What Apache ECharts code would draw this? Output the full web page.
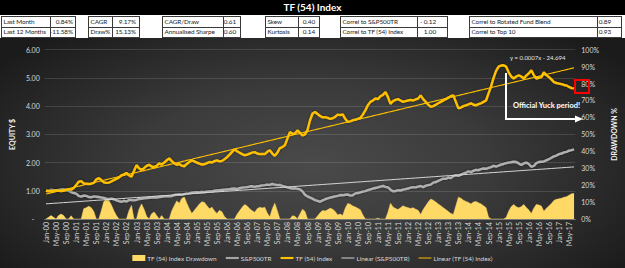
<!DOCTYPE html>
<html><head><meta charset="utf-8">
<script src="https://cdn.jsdelivr.net/npm/echarts@6/dist/echarts.min.js"></script>
<style>
html,body{margin:0;padding:0;width:625px;height:268px;overflow:hidden;background:#fff;font-family:Lato,'Liberation Sans',sans-serif;}
#band{position:absolute;left:0;top:0;width:625px;height:15px;background:#000;color:#fff;font-weight:bold;font-size:10px;line-height:15px;text-align:center;}
#bg{position:absolute;left:0;top:38px;width:625px;height:230px;
 background:radial-gradient(ellipse 62% 75% at 50% 55%, #4a4a4a 0%, #3b3b3b 45%, #282828 78%, #1b1b1b 100%);}
#chart{position:absolute;left:0;top:0;width:625px;height:268px;}
.box{position:absolute;top:15.5px;height:22px;border:1px solid #3a3a3a;box-sizing:border-box;font-size:6.4px;letter-spacing:-0.1px;color:#222;}
.hr{position:absolute;left:0;right:0;top:10px;height:0;border-top:1px solid #3a3a3a;}
.vr{position:absolute;top:0;bottom:0;width:0;border-left:1px solid #3a3a3a;}
.lab{position:absolute;left:1.5px;height:10px;line-height:10px;white-space:nowrap;}
.val{position:absolute;height:10px;line-height:10px;white-space:nowrap;text-align:right;}
</style></head>
<body>
<div id="band">TF (54) Index</div>
<div id="bg"></div>
<div id="tables"></div>
<div id="chart"></div>
<script>
// ---------- stats tables ----------
const statLabels = [
  ["Last Month","Last 12 Months"],
  ["CAGR","Draw%"],
  ["CAGR/Draw","Annualised Sharpe"],
  ["Skew","Kurtosis"],
  ["Correl to S&P500TR","Correl to TF (54) Index"],
  ["Correl to Rotated Fund Blend"," Correl to Top 10"]
];
const statValues = [
  ["0.84%","-11.58%"],
  ["9.17%","15.13%"],
  ["0.61","0.60"],
  ["0.40","0.14"],
  ["- 0.12","1.00"],
  ["0.89","0.93"]
];

// ---------- chart data (monthly, Jan-00 .. Jul-17) ----------
const startYear = 2000;
const monthNames = ['Jan','Feb','Mar','Apr','May','Jun','Jul','Aug','Sep','Oct','Nov','Dec'];

const tfIndex = [
 1.00,0.99,0.98,0.99,1.02,1.00,0.99,1.00,1.03,1.05,1.04,1.10,
 1.20,1.32,1.34,1.26,1.25,1.24,1.25,1.28,1.40,1.45,1.38,1.30,
 1.28,1.29,1.33,1.38,1.42,1.47,1.55,1.58,1.63,1.55,1.50,1.70,
 1.91,1.80,1.74,1.80,1.88,1.92,1.86,1.84,1.88,1.97,1.93,2.00,
 2.08,2.15,2.05,1.98,1.92,1.95,1.89,1.87,1.95,2.02,2.08,2.04,
 2.00,1.96,1.93,1.94,1.98,2.02,2.00,2.05,2.08,2.04,2.06,2.12,
 2.19,2.28,2.38,2.47,2.40,2.35,2.30,2.26,2.28,2.32,2.35,2.37,
 2.32,2.30,2.31,2.30,2.38,2.44,2.32,2.24,2.35,2.51,2.55,2.61,
 2.85,3.08,3.02,3.03,3.14,3.05,2.96,3.00,3.15,3.50,3.74,3.79,
 3.72,3.65,3.60,3.61,3.58,3.55,3.57,3.62,3.70,3.68,3.71,3.55,
 3.44,3.46,3.50,3.52,3.55,3.58,3.70,3.85,4.03,4.15,4.20,4.27,
 4.25,4.35,4.40,4.50,4.32,4.08,4.18,4.22,4.25,4.20,4.15,4.18,
 4.20,4.22,4.20,4.24,4.27,4.38,4.25,4.15,4.05,3.97,4.00,4.05,
 4.10,4.15,4.20,4.25,4.30,4.35,4.38,4.15,3.92,3.95,4.00,4.03,
 4.06,4.10,4.05,4.03,4.07,4.10,4.15,4.20,4.45,4.70,5.00,5.25,
 5.40,5.44,5.45,5.40,5.20,5.05,4.98,5.05,5.09,5.05,4.98,5.08,
 5.16,5.27,5.10,4.98,5.00,5.03,5.20,5.10,5.03,4.95,4.85,4.82,
 4.80,4.78,4.75,4.73,4.68,4.64,4.63
];

const sp500tr = [
 1.00,0.98,1.04,1.02,1.00,1.03,1.05,1.06,1.02,1.00,0.95,0.92,
 0.90,0.82,0.79,0.83,0.82,0.78,0.77,0.80,0.79,0.78,0.76,0.75,
 0.72,0.70,0.72,0.70,0.66,0.63,0.61,0.64,0.62,0.67,0.67,0.66,
 0.68,0.71,0.72,0.73,0.74,0.75,0.76,0.77,0.76,0.78,0.79,0.80,
 0.81,0.80,0.81,0.85,0.86,0.87,0.86,0.88,0.90,0.91,0.93,0.94,
 0.95,0.94,0.96,0.95,0.97,0.98,0.98,1.00,1.01,1.02,1.03,1.04,
 1.05,1.06,1.07,1.08,1.06,1.09,1.11,1.12,1.13,1.15,1.16,1.14,
 1.16,1.17,1.19,1.20,1.22,1.21,1.24,1.22,1.20,1.21,1.17,1.15,
 1.12,1.10,1.08,1.09,1.07,1.05,0.98,0.86,0.80,0.76,0.72,0.67,
 0.64,0.61,0.66,0.70,0.73,0.76,0.78,0.80,0.82,0.85,0.84,0.86,
 0.87,0.83,0.84,0.91,0.92,0.94,0.97,0.99,1.02,1.05,1.08,1.10,
 1.12,1.15,1.17,1.14,1.12,1.04,0.98,0.99,1.02,1.01,1.04,1.06,
 1.08,1.11,1.13,1.12,1.15,1.17,1.13,1.18,1.20,1.22,1.29,1.31,
 1.35,1.39,1.43,1.42,1.47,1.45,1.52,1.55,1.53,1.57,1.61,1.64,
 1.69,1.66,1.71,1.74,1.73,1.77,1.79,1.78,1.81,1.84,1.88,1.86,
 1.89,1.93,1.95,1.98,2.00,2.01,2.03,2.02,1.97,1.91,1.97,2.00,
 1.95,1.85,1.88,1.98,2.02,2.03,2.04,2.08,2.12,2.17,2.22,2.25,
 2.30,2.32,2.36,2.38,2.42,2.44,2.47
];

const drawdownPct = [
 0,1.0,2.0,1.0,0,2.0,2.9,2.0,0,0,1.9,0,
 0,0,0,6.0,6.7,7.5,6.7,4.5,0,0,4.8,10.3,
 11.7,11.0,8.3,4.8,2.1,0,0,0,0,4.9,8.0,0,
 0,5.8,8.9,5.8,1.6,0,3.1,4.2,2.1,0,2.0,0,
 0,0,4.7,7.9,10.7,9.3,12.1,13.0,9.3,6.0,3.3,5.1,
 7.0,8.8,10.2,9.8,7.9,6.0,7.0,4.7,3.3,5.1,4.2,1.4,
 0,0,0,0,2.8,4.9,6.9,8.5,7.7,6.1,4.9,4.0,
 6.1,6.9,6.5,6.9,3.6,1.2,6.1,9.3,4.9,0,0,0,
 0,0,1.9,1.6,0,2.9,5.7,4.5,0,0,0,0,
 1.8,3.7,5.0,4.7,5.5,6.3,5.8,4.5,2.4,2.9,2.1,6.3,
 9.2,8.7,7.7,7.1,6.3,5.5,2.4,0,0,0,0,0,
 0.5,0,0,0,4.0,9.3,7.1,6.2,5.6,6.7,7.8,7.1,
 6.7,6.2,6.7,5.8,5.1,2.7,5.6,7.8,10.0,11.8,11.1,10.0,
 8.9,7.8,6.7,5.6,4.4,3.3,2.7,7.8,12.9,12.2,11.1,10.4,
 9.8,8.9,10.0,10.4,9.6,8.9,7.8,6.7,1.1,0,0,0,
 0,0,0,0.9,4.6,7.3,8.6,7.3,6.6,7.3,8.6,6.8,
 5.3,3.3,6.4,8.6,8.3,7.7,4.6,6.4,7.7,9.2,11.0,11.6,
 11.9,12.3,12.8,13.2,14.1,14.9,15.1
];

const equityTicks = [0,1,2,3,4,5,6];

// ---------- build tables ----------
const boxLayout = [
 {x:1,d:50,r:76,pad:2},{x:88,d:112,r:140,pad:3},{x:162,d:223,r:241,pad:4},
 {x:265,d:298,r:320,pad:4},{x:340,d:417,r:448,pad:11},{x:469,d:597,r:622,pad:10}
];
const tables = document.getElementById('tables');
boxLayout.forEach((b,i)=>{
  const box=document.createElement('div'); box.className='box';
  box.style.left=b.x+'px'; box.style.width=(b.r-b.x)+'px';
  let h='<div class="hr"></div><div class="vr" style="left:'+(b.d-b.x-1)+'px"></div>';
  for(let r=0;r<2;r++){
    h+='<div class="lab" style="top:'+(r*10.5)+'px">'+statLabels[i][r].replace(/&/g,'&amp;')+'</div>';
    h+='<div class="val" style="top:'+(r*10.5)+'px;right:'+b.pad+'px">'+statValues[i][r]+'</div>';
  }
  box.innerHTML=h; tables.appendChild(box);
});

// ---------- chart ----------
const categories = tfIndex.map((_,i)=>monthNames[i%12]+'-'+String((startYear+Math.floor(i/12))%100).padStart(2,'0'));
function linFit(arr){
  const n=arr.length; let sx=0,sy=0,sxx=0,sxy=0;
  arr.forEach((v,i)=>{sx+=i;sy+=v;sxx+=i*i;sxy+=i*v;});
  const b=(n*sxy-sx*sy)/(n*sxx-sx*sx), a=(sy-b*sx)/n;
  return arr.map((_,i)=>+(a+b*i).toFixed(4));
}
const spTrend = linFit(sp500tr), tfTrend = linFit(tfIndex);

const chart = echarts.init(document.getElementById('chart'), null, {renderer:'svg'});
const txt = '#d9d9d9';
chart.setOption({
  animation:false,
  textStyle:{fontFamily:'Lato, Liberation Sans, sans-serif'},
  grid:{left:41.7,right:40.7,top:49.7,bottom:49},
  legend:{
    top:250,left:'center',itemWidth:13,itemHeight:6,itemGap:9,
    textStyle:{color:txt,fontSize:6.4,padding:[0,0,0,-3]},
    data:[
      {name:'TF (54) Index Drawdown',icon:'rect'},
      {name:'S&P500TR',icon:'path://M0,0H16V2.6H0Z'},
      {name:'TF (54) Index',icon:'path://M0,0H16V2.6H0Z'},
      {name:'Linear (S&P500TR)',icon:'path://M0,0H16V1.2H0Z'},
      {name:'Linear (TF (54) Index)',icon:'path://M0,0H16V1.2H0Z'}
    ]
  },
  xAxis:{type:'category',data:categories,boundaryGap:true,
    axisTick:{show:false},axisLine:{lineStyle:{color:'#7a7a7a'}},
    axisLabel:{interval:3,rotate:90,color:txt,fontSize:7,margin:3}},
  yAxis:[
    {type:'value',min:equityTicks[0],max:equityTicks[equityTicks.length-1],interval:1,
     name:'EQUITY $',nameLocation:'middle',nameRotate:90,nameGap:24,
     nameTextStyle:{color:'#f2f2f2',fontSize:7,fontWeight:'bold'},
     axisLabel:{color:txt,fontSize:7,margin:5,formatter:v=>v===0?'-   ':v.toFixed(2)},
     axisLine:{show:false},axisTick:{show:false},
     splitLine:{lineStyle:{color:'rgba(255,255,255,0.13)',width:1}}},
    {type:'value',min:0,max:100,interval:10,position:'right',
     name:'DRAWDOWN %',nameLocation:'middle',nameRotate:90,nameGap:29,
     nameTextStyle:{color:'#f2f2f2',fontSize:7,fontWeight:'bold'},
     axisLabel:{color:txt,fontSize:7,margin:6,formatter:'{value}%'},
     axisLine:{show:false},axisTick:{show:false},splitLine:{show:false}}
  ],
  series:[
    {name:'TF (54) Index Drawdown',type:'line',yAxisIndex:1,data:drawdownPct,symbol:'none',
     color:'#FFD966',lineStyle:{width:0.5,color:'#FFD966'},areaStyle:{color:'#FFD966',opacity:1},z:1},
    {name:'S&P500TR',type:'line',data:sp500tr,symbol:'none',color:'#A6A6A6',
     lineStyle:{width:2.4,color:'#B0B0B0',shadowColor:'rgba(0,0,0,0.55)',shadowBlur:2},z:2},
    {name:'TF (54) Index',type:'line',data:tfIndex,symbol:'none',color:'#FFC000',
     lineStyle:{width:2.4,color:'#FFC000',shadowColor:'rgba(0,0,0,0.6)',shadowBlur:2},z:3},
    {name:'Linear (S&P500TR)',type:'line',data:spTrend,symbol:'none',color:'#D9D9D9',
     lineStyle:{width:1,color:'#D9D9D9'},z:4},
    {name:'Linear (TF (54) Index)',type:'line',data:tfTrend,symbol:'none',color:'#FFC000',
     lineStyle:{width:1.1,color:'#FFC000'},z:4}
  ],
  graphic:[
    {type:'text',left:510,top:54,z:10,style:{text:'y = 0.0007x - 24.694',fill:'#e6e6e6',fontSize:6,fontFamily:'Lato, sans-serif'}},
    {type:'polyline',z:10,shape:{points:[[506,73],[506,119],[577,119]]},style:{stroke:'#ffffff',lineWidth:2,fill:null}},
    {type:'polygon',z:10,shape:{points:[[575,115.5],[583,119],[575,122.5]]},style:{fill:'#ffffff'}},
    {type:'text',left:513,top:101,z:10,style:{text:'Official Yuck period!',fill:'#ffffff',fontSize:7.5,fontWeight:'bold',fontFamily:'Lato, sans-serif'}},
    {type:'rect',z:10,shape:{x:575,y:80,width:14,height:13},style:{stroke:'#ff0000',lineWidth:2,fill:null}}
  ]
});
</script>
</body></html>
